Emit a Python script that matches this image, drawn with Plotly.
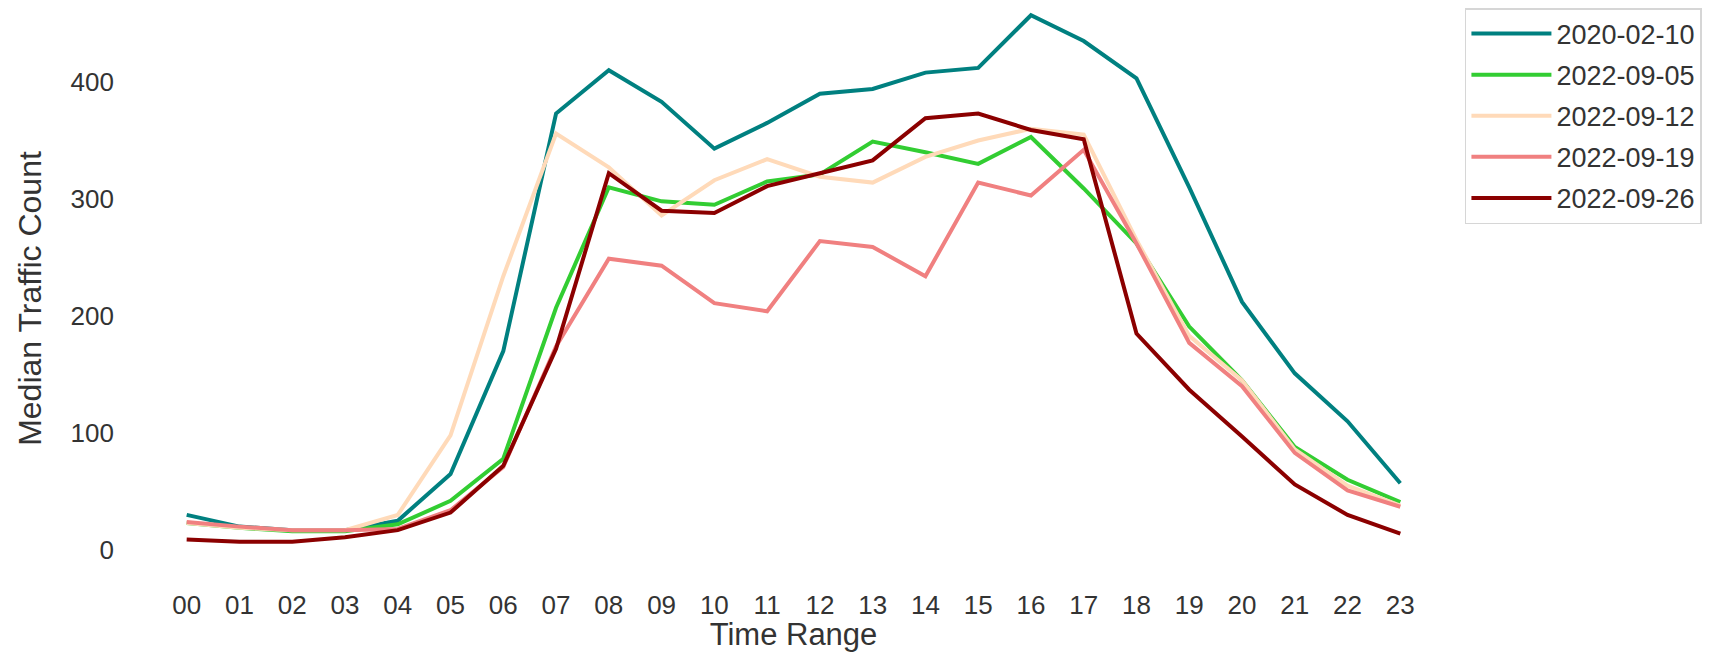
import plotly.graph_objects as go

hours = [f"{h:02d}" for h in range(24)]

series_names = ["2020-02-10", "2022-09-05", "2022-09-12", "2022-09-19", "2022-09-26"]

s_2020_02_10 = [30, 20, 17, 17, 25, 65, 170, 373, 410, 383, 343, 365, 390, 394, 408, 412, 457, 435, 403, 310, 212, 151, 110, 57]
s_2022_09_05 = [23, 19, 16, 16, 22, 42, 78, 207, 310, 298, 295, 315, 321, 349, 340, 330, 353, 309, 262, 191, 145, 88, 60, 41]
s_2022_09_12 = [23, 19, 17, 17, 30, 98, 234, 356, 327, 286, 316, 334, 319, 314, 336, 350, 360, 355, 265, 183, 145, 86, 55, 38]
s_2022_09_19 = [24, 20, 17, 17, 18, 34, 71, 174, 249, 243, 211, 204, 264, 259, 234, 314, 303, 342, 262, 177, 140, 83, 51, 37]
s_2022_09_26 = [9, 7, 7, 11, 17, 32, 72, 172, 322, 290, 288, 311, 322, 333, 369, 373, 359, 351, 185, 137, 97, 56, 30, 14]

series_values = [s_2020_02_10, s_2022_09_05, s_2022_09_12, s_2022_09_19, s_2022_09_26]
colors = ["#008080", "#32CD32", "#FFDAB9", "#F08080", "#8B0000"]

y_tickvals = [0, 100, 200, 300, 400]

TEXT = "#333333"
FONT = "Liberation Sans, Arial, sans-serif"

fig = go.Figure()
for i, (name, vals, col) in enumerate(zip(series_names, series_values, colors)):
    fig.add_trace(go.Scatter(
        x=hours, y=vals, mode="lines", name=name,
        legendgroup=f"g{i}",
        line=dict(color=col, width=4),
    ))

fig.update_layout(
    width=1706, height=644,
    margin=dict(l=118, r=253, t=2, b=65),
    paper_bgcolor="white", plot_bgcolor="white",
    font=dict(family=FONT, color=TEXT, size=26),
    showlegend=True,
    legend=dict(
        xref="container", yref="container",
        x=0.854, y=1.0, xanchor="left", yanchor="top",
        bordercolor="#d6d6d6", borderwidth=1.5,
        bgcolor="white",
        font=dict(size=27, color=TEXT, family=FONT),
        tracegroupgap=3,
        itemwidth=80,
    ),
    xaxis=dict(
        type="category",
        categoryorder="array", categoryarray=hours,
        range=[-1.15, 24.15],
        showgrid=False, zeroline=False, showline=False,
        ticks="", tickfont=dict(size=26),
        title=dict(text="Time Range", font=dict(size=31), standoff=10),
        automargin=False,
    ),
    yaxis=dict(
        range=[-31.6, 461.5],
        tickvals=y_tickvals,
        showgrid=False, zeroline=False, showline=False,
        ticks="", tickfont=dict(size=26),
        ticklabelstandoff=11,
        title=dict(text="Median Traffic Count", font=dict(size=32), standoff=19),
        automargin=False,
    ),
)

fig.write_html("out.html")
